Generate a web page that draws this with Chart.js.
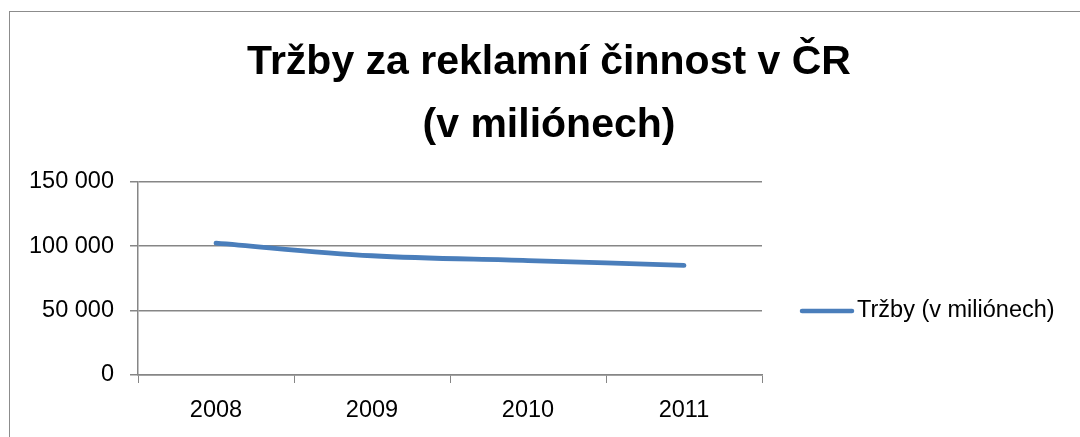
<!DOCTYPE html>
<html>
<head>
<meta charset="utf-8">
<script src="https://cdn.jsdelivr.net/npm/chart.js@4"></script>
<style>
  html, body { margin: 0; padding: 0; background: #fff; }
  #wrap { position: relative; width: 1080px; height: 437px; overflow: hidden; }
  #frame { position: absolute; left: 9px; top: 11px; width: 1200px; height: 600px; border: 1px solid #8c8c8c; }
  canvas { position: absolute; left: 0; top: 0; }
</style>
</head>
<body>
<div id="wrap">
  <div id="frame"></div>
  <canvas id="graf" width="1080" height="437"></canvas>
</div>
<script>
const roky = ["2008", "2009", "2010", "2011"];
const trzby = [102300, 92500, 88800, 85000];
const nazevSerie = "Tržby (v miliónech)";
const titulek = ["Tržby za reklamní činnost v ČR", "(v miliónech)"];

const pismo = "'Liberation Sans', Arial, sans-serif";
const seda = "#868686";

// legenda vpravo, kreslena rucne
const legendaVpravo = {
  id: "legendaVpravo",
  afterDraw(chart) {
    const ctx = chart.ctx;
    const ds = chart.data.datasets[0];
    const y = 311;
    ctx.save();
    ctx.strokeStyle = ds.borderColor;
    ctx.lineWidth = 4.5;
    ctx.lineCap = "round";
    ctx.beginPath();
    ctx.moveTo(802, y);
    ctx.lineTo(852, y);
    ctx.stroke();
    ctx.fillStyle = "#000";
    ctx.font = "23.5px " + pismo;
    ctx.textBaseline = "middle";
    ctx.fillText(ds.label, 857, y);
    ctx.restore();
  },
};

new Chart(document.getElementById("graf"), {
  type: "line",
  data: {
    labels: roky,
    datasets: [
      {
        label: nazevSerie,
        data: trzby,
        borderColor: "#4a7ebb",
        borderWidth: 4.8,
        borderCapStyle: "round",
        tension: 0.35,
        pointRadius: 0,
        fill: false,
      },
    ],
  },
  options: {
    responsive: false,
    animation: false,
    layout: { padding: { left: 18, right: 0, top: 0, bottom: 0 } },
    plugins: {
      legend: { display: false },
      tooltip: { enabled: false },
      title: {
        display: true,
        text: titulek,
        color: "#000",
        font: { family: pismo, size: 41, weight: "bold", lineHeight: 1.52 },
        padding: { top: 32, bottom: 25 },
      },
    },
    scales: {
      x: {
        offset: true,
        grid: { offset: true, drawOnChartArea: false, drawTicks: true, tickLength: 8, color: seda },
        border: { color: seda, width: 1.5 },
        ticks: { color: "#000", font: { family: pismo, size: 23.5 }, padding: 13 },
        afterFit(s) { s.height = 62; },
      },
      y: {
        min: 0,
        max: 150000,
        ticks: {
          stepSize: 50000,
          color: "#000",
          font: { family: pismo, size: 23.5 },
          padding: 16,
          callback: (v) => v.toLocaleString("fr-FR").replace(/\u202f|\u00a0/g, " "),
        },
        grid: { color: seda, lineWidth: 1.5, tickLength: 8 },
        border: { color: seda, width: 1.5 },
        afterFit(s) { s.width = 120; },
      },
      // prazdna osa vpravo - misto pro legendu
      misto: {
        position: "right",
        display: true,
        ticks: { display: false },
        grid: { display: false },
        border: { display: false },
        afterFit(s) { s.width = 318; },
      },
    },
  },
  plugins: [legendaVpravo],
});
</script>
</body>
</html>
